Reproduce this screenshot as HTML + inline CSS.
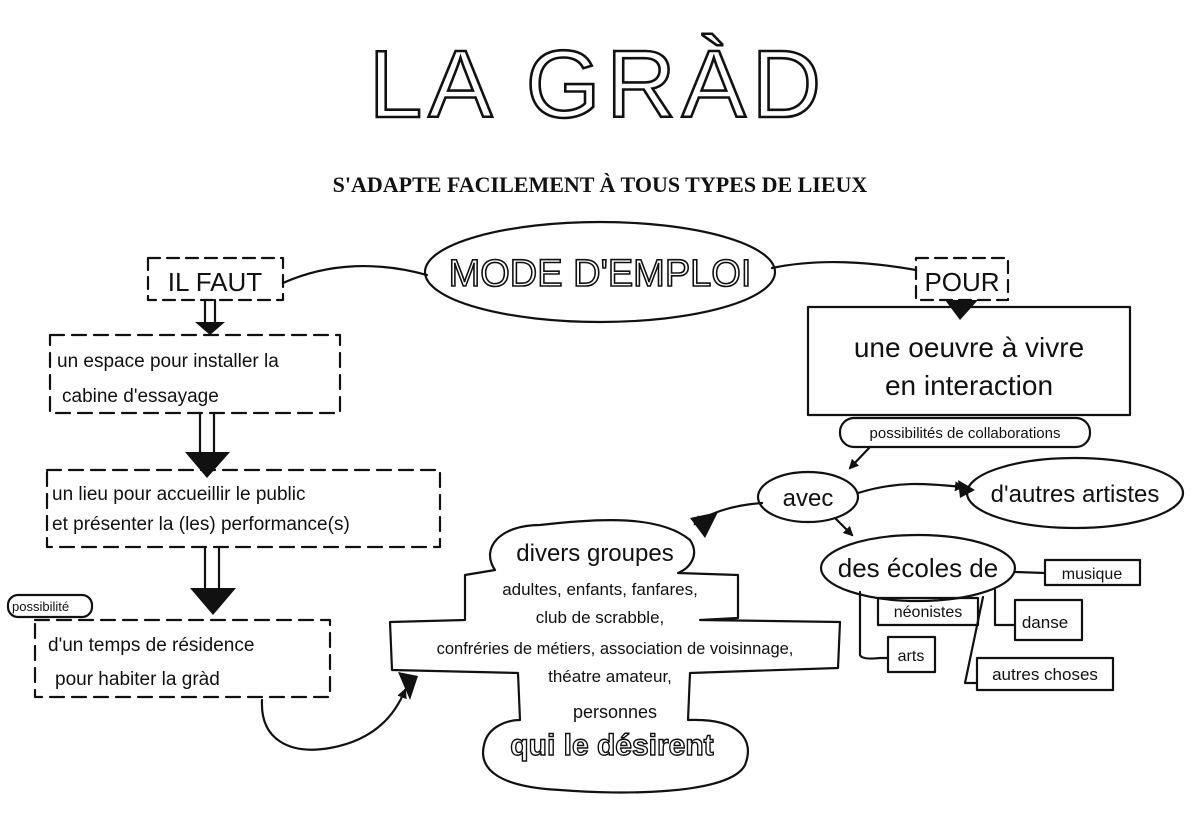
<!DOCTYPE html>
<html><head><meta charset="utf-8"><style>
html,body{margin:0;padding:0;background:#fff;width:1200px;height:822px;overflow:hidden}
svg{display:block}
text{font-family:"Liberation Sans",sans-serif;fill:#111}
</style></head><body>
<svg width="1200" height="822" viewBox="0 0 1200 822" xmlns="http://www.w3.org/2000/svg">
<defs>
<marker id="ah" markerWidth="10" markerHeight="10" refX="8" refY="5" orient="auto" markerUnits="userSpaceOnUse" viewBox="0 0 10 10"><path d="M0,0 L10,5 L0,10 z" fill="#111"/></marker>
</defs>
<g stroke="#111" stroke-width="2.2" fill="none" stroke-linecap="round" stroke-linejoin="round">
<!-- title -->
</g>
<text x="598" y="117" text-anchor="middle" font-size="96" fill="#fff" stroke="#111" stroke-width="2.6" style="fill:#fff;letter-spacing:6px">LA GRÀD</text>
<text x="600" y="192" text-anchor="middle" font-size="22" font-weight="bold" font-family="Liberation Serif" style="font-family:'Liberation Serif',serif">S'ADAPTE FACILEMENT À TOUS TYPES DE LIEUX</text>

<g stroke="#111" stroke-width="2.2" fill="none" stroke-linecap="round" stroke-linejoin="round">
<ellipse cx="600" cy="272" rx="175" ry="50"/>
<path d="M283,283 C330,262 380,262 427,275"/>
<path d="M772,268 C820,258 870,262 916,270"/>
<rect x="148" y="258" width="135" height="42" stroke-dasharray="12 7"/>
<rect x="916" y="258" width="92" height="42" stroke-dasharray="12 7"/>
<rect x="50" y="335" width="290" height="78" stroke-dasharray="14 8"/>
<rect x="47" y="470" width="393" height="77" stroke-dasharray="14 8"/>
<rect x="35" y="620" width="295" height="77" stroke-dasharray="14 8"/>
<rect x="8" y="595" width="84" height="22" rx="10"/>
<path d="M205,300 V322 M215,300 V322"/>
<path d="M200,413 V452 M214,413 V452"/>
<path d="M205,547 V588 M219,547 V588"/>
<path d="M262,700 C260,740 290,755 330,748 C375,740 395,715 405,690" marker-end="url(#ah)"/>
<rect x="808" y="307" width="322" height="108"/>
<path d="M960,300 V306"/>
<rect x="840" y="418" width="250" height="29" rx="14"/>
<path d="M870,447 L850,468" marker-end="url(#ah)"/>
<ellipse cx="808" cy="497" rx="50" ry="25"/>
<ellipse cx="1075" cy="493" rx="108" ry="35"/>
<path d="M858,493 C900,480 930,484 963,487" marker-end="url(#ah)"/>
<path d="M762,503 C735,505 710,512 695,524" marker-end="url(#ah)"/>
<path d="M835,518 L852,535" marker-end="url(#ah)"/>
<ellipse cx="918" cy="568" rx="97" ry="33"/>
<path d="M1015,572 L1045,573"/>
<rect x="1045" y="560" width="95" height="25"/>
<path d="M995,590 V625 L1015,625"/>
<path d="M1015,600 H1082 V640 H1015 Z"/>
<path d="M983,597 L965,683 L977,683"/>
<path d="M977,658 H1113 V690 H977 Z"/>
<rect x="878" y="598" width="100" height="27"/>
<path d="M860,592 V655 Q862,660 880,658 L888,658"/>
<rect x="888" y="637" width="47" height="35"/>
<path d="M495,570 C480,548 500,525 540,525 C600,518 660,515 690,540 C700,555 690,568 678,573 L738,575 L738,618 L700,620 L840,622 L838,668 L690,673 L688,720 C740,718 755,740 745,765 C730,795 620,795 560,790 C500,787 478,770 484,745 C488,725 510,720 520,720 L518,673 L392,670 L390,622 L465,620 L465,575 Z"/>
</g>
<polygon points="195,322 225,322 210,335" fill="#111"/>
<polygon points="185,452 230,452 207,478" fill="#111"/>
<polygon points="190,588 236,588 213,615" fill="#111"/>
<polygon points="945,300 978,300 960,320" fill="#111"/>
<polygon points="398,672 418,676 410,700" fill="#111"/>
<polygon points="690,518 718,512 705,538" fill="#111"/>
<polygon points="958,480 975,490 960,498" fill="#111"/>

<text x="600" y="286" text-anchor="middle" font-size="38" stroke="#111" stroke-width="1.6" style="fill:#fff">MODE D'EMPLOI</text>
<text x="215" y="291" text-anchor="middle" font-size="26">IL FAUT</text>
<text x="962" y="291" text-anchor="middle" font-size="26">POUR</text>
<g font-size="19">
<text x="57" y="367">un espace pour installer la</text>
<text x="62" y="402">cabine d'essayage</text>
<text x="52" y="500">un lieu pour accueillir le public</text>
<text x="52" y="530">et présenter la (les) performance(s)</text>
<text x="48" y="651">d'un temps de résidence</text>
<text x="55" y="685">pour habiter la gràd</text>
</g>
<text x="12" y="611" font-size="13">possibilité</text>
<text x="969" y="357" text-anchor="middle" font-size="28">une oeuvre à vivre</text>
<text x="969" y="395" text-anchor="middle" font-size="28">en interaction</text>
<text x="965" y="438" text-anchor="middle" font-size="15">possibilités de collaborations</text>
<text x="808" y="506" text-anchor="middle" font-size="24">avec</text>
<text x="1075" y="502" text-anchor="middle" font-size="24">d'autres artistes</text>
<text x="918" y="577" text-anchor="middle" font-size="26">des écoles de</text>
<text x="1092" y="579" text-anchor="middle" font-size="16">musique</text>
<text x="1045" y="628" text-anchor="middle" font-size="17">danse</text>
<text x="1045" y="680" text-anchor="middle" font-size="17">autres choses</text>
<text x="928" y="617" text-anchor="middle" font-size="16">néonistes</text>
<text x="911" y="661" text-anchor="middle" font-size="16">arts</text>
<text x="595" y="561" text-anchor="middle" font-size="24">divers groupes</text>
<text x="600" y="595" text-anchor="middle" font-size="17">adultes, enfants, fanfares,</text>
<text x="600" y="623" text-anchor="middle" font-size="17">club de scrabble,</text>
<text x="615" y="654" text-anchor="middle" font-size="16.5">confréries de métiers, association de voisinnage,</text>
<text x="610" y="682" text-anchor="middle" font-size="17">théatre amateur,</text>
<text x="615" y="718" text-anchor="middle" font-size="18">personnes</text>
<text x="612" y="755" text-anchor="middle" font-size="30" font-weight="bold" stroke="#111" stroke-width="1.4" style="fill:#fff">qui le désirent</text>
</svg>
</body></html>
